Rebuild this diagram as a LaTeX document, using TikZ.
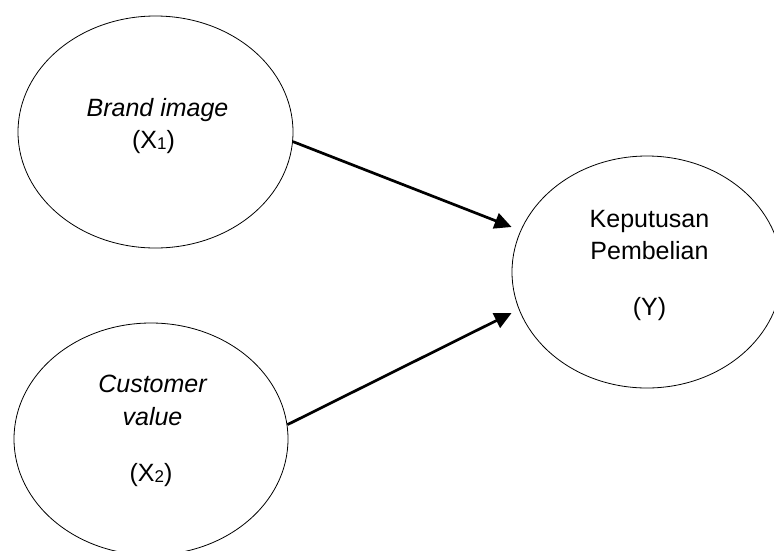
\documentclass[tikz,border=0pt]{standalone}
\usepackage{fontspec}
\setmainfont{Liberation Sans}
\usetikzlibrary{shapes.geometric,arrows.meta,calc}
\newcommand\myidx[1]{{\fontsize{17}{20}\selectfont\raisebox{-1pt}{#1}}}
\begin{document}
\begin{tikzpicture}[x=1pt,y=-1pt,
  bub/.style={draw,ellipse,line width=0.8pt,inner sep=0pt},
  lbl/.style={anchor=base,font=\fontsize{25}{30}\selectfont,inner sep=0pt},
  arr/.style={line width=2.7pt,-{Triangle[length=17pt,width=16pt]}}]
\useasboundingbox (0,0) rectangle (774,550);
\node[bub,minimum width=275pt,minimum height=232pt] (e1) at (155.5,132) {};
\node[bub,minimum width=274pt,minimum height=232pt] (e2) at (151,439) {};
\node[bub,minimum width=270pt,minimum height=232pt] (e3) at (647,272) {};
\node[lbl] (t1) at (157.5,116) {\itshape Brand image};
\node[lbl] (t2) at (153.5,148) {(X\myidx{1})};
\node[lbl] (t3) at (152.5,392) {\itshape Customer};
\node[lbl] (t4) at (152.5,425) {\itshape value};
\node[lbl] (t5) at (151,481) {(X\myidx{2})};
\node[lbl] (t6) at (649.5,227) {Keputusan};
\node[lbl] (t7) at (649.5,259) {Pembelian};
\node[lbl] (t8) at (649.5,315) {(Y)};
\draw[arr] (e1.-4.6) -- ($(e3.west)+(0,-45)$);
\draw[arr] (e2.6.7) -- ($(e3.west)+(0,41)$);
\end{tikzpicture}
\end{document}
